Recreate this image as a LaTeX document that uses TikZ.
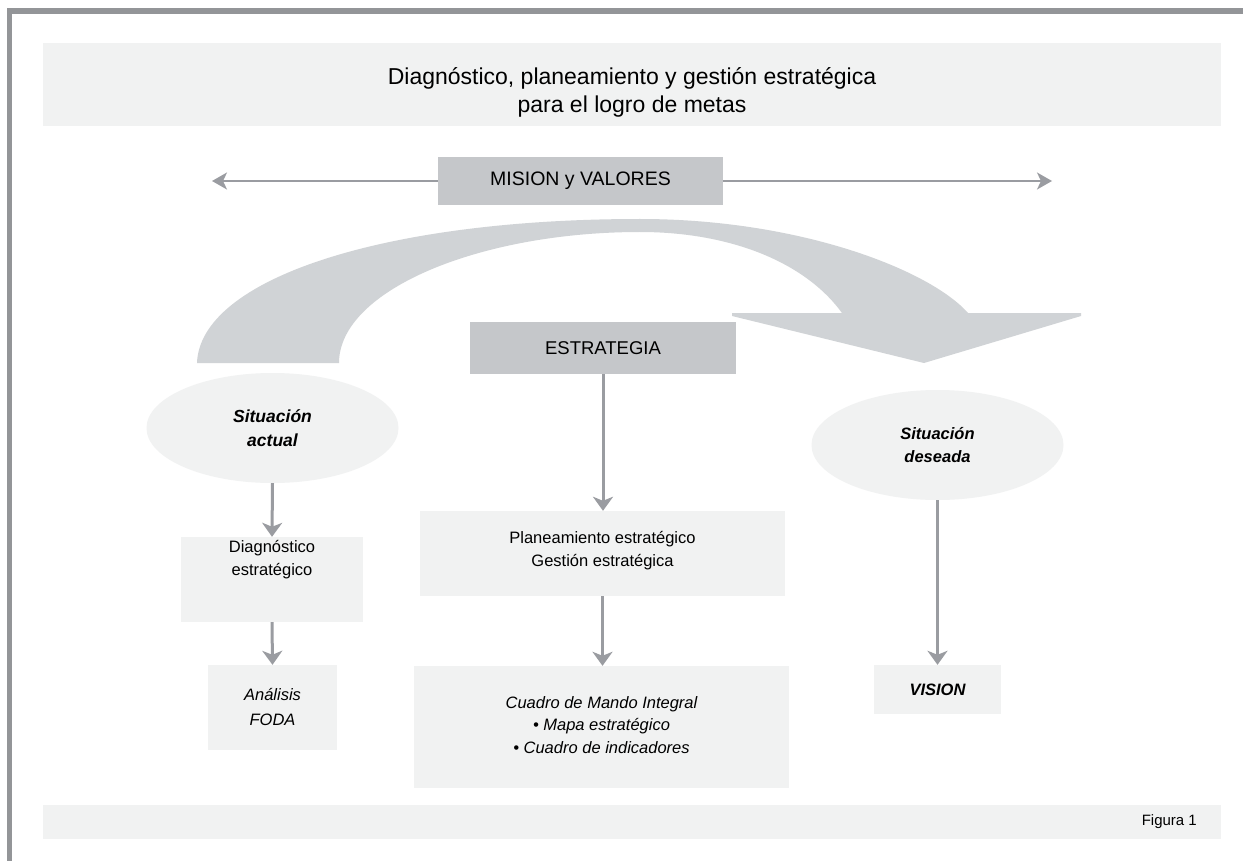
\documentclass[tikz,border=0pt]{standalone}
\usepackage{fontspec}
\setmainfont{Liberation Sans}
\usetikzlibrary{arrows.meta,shapes.geometric}
\definecolor{panel}{HTML}{F1F2F2}
\definecolor{darkbox}{HTML}{C5C7CA}
\definecolor{bigarrow}{HTML}{D0D3D6}
\definecolor{arrowgray}{HTML}{9A9CA1}
\definecolor{framegray}{HTML}{939598}
\begin{document}
\begin{tikzpicture}[x=1pt,y=-1pt,
  panelbox/.style={rectangle,fill=panel,inner sep=0pt},
  darkrect/.style={rectangle,fill=darkbox,inner sep=0pt,font=\fontsize{18.5}{22}\selectfont},
  oval/.style={ellipse,fill=panel,inner sep=0pt,minimum width=252pt,minimum height=110pt,align=center,font=\fontsize{16.5}{22.5}\selectfont\bfseries\itshape},
  txt/.style={align=center,inner sep=0pt,font=\fontsize{16.5}{23}\selectfont},
  harrow/.style={draw=arrowgray,line width=1.6pt,-{Stealth[length=15pt,width=17pt,inset=4pt]}},
  varrow/.style={draw=arrowgray,line width=3pt,-{Stealth[length=14pt,width=20pt,inset=4pt]}}]
\useasboundingbox (0,0) rectangle (1243,861);
\fill[white] (0,0) rectangle (1243,861);
% frame
\fill[framegray] (7,8) rectangle (1243,14);
\fill[framegray] (7,8) rectangle (12,861);
% title
\node[panelbox,minimum width=1178pt,minimum height=83pt] (title) at (632,84.5) {};
\node[txt,font=\fontsize{23}{28}\selectfont] (titletext) at (632,92.5) {Diagnóstico, planeamiento y gestión estratégica\\para el logro de metas};
% mision
\node[darkrect,minimum width=285pt,minimum height=48pt,font=\fontsize{19.5}{22}\selectfont] (mision) at (580.5,181) {MISION y VALORES};
\coordinate (mleft) at (212,181);
\coordinate (mright) at (1052,181);
\draw[harrow] (mision.west) -- (mleft);
\draw[harrow] (mision.east) -- (mright);
% big curved arrow
\fill[bigarrow] (197,363) -- (339,363)
  .. controls (339,290) and (480,232) .. (640,232)
  .. controls (730,232) and (805,262) .. (842,313)
  -- (732,313) -- (732,316) -- (924,363) -- (1081,316) -- (1081,313) -- (968,313)
  .. controls (930,270) and (800,219) .. (640,219)
  .. controls (380,219) and (200,280) .. (197,363) -- cycle;
% estrategia
\node[darkrect,minimum width=266pt,minimum height=52pt] (estr) at (603,348) {ESTRATEGIA};
% left column
\node[oval,font=\fontsize{17.5}{24}\selectfont\bfseries\itshape] (sa) at (272.5,428) {Situación\\actual};
\node[panelbox,minimum width=182pt,minimum height=85pt] (diag) at (272,579.5) {};
\node[txt,anchor=north] (diagtext) at (272,540) {Diagnóstico\\estratégico};
\node[panelbox,minimum width=129pt,minimum height=85pt,txt,font=\fontsize{16.5}{25}\selectfont\itshape] (foda) at (272.5,707.5) {Análisis\\FODA};
\draw[varrow] (sa.south) -- (diag.north);
\draw[varrow] (diag.south) -- (foda.north);
% middle column
\node[panelbox,minimum width=365pt,minimum height=85pt] (plan) at (602.5,553.5) {};
\node[txt] (plantext) at (602.5,550.5) {Planeamiento estratégico\\Gestión estratégica};
\node[panelbox,minimum width=375pt,minimum height=122pt] (cmi) at (601.5,727) {};
\node[txt,font=\fontsize{16.5}{22.5}\selectfont\itshape] (cmitext) at (601.5,725) {Cuadro de Mando Integral\\\textbullet{} Mapa estratégico\\\textbullet{} Cuadro de indicadores};
\draw[varrow] (estr.south) -- (estr.south |- plan.north);
\draw[varrow] (plan.south) -- (plan.south |- cmi.north);
% right column
\node[oval] (sd) at (937.5,445) {Situación\\deseada};
\node[panelbox,minimum width=127pt,minimum height=49pt,txt,font=\fontsize{16.5}{22}\selectfont\bfseries\itshape] (vision) at (937.5,689.5) {VISION};
\draw[varrow] (sd.south) -- (vision.north);
% footer
\node[panelbox,minimum width=1178pt,minimum height=34pt] (footer) at (632,822) {};
\node[txt,anchor=east,font=\fontsize{15}{18}\selectfont] (fig) at (1197,822) {Figura 1};
\end{tikzpicture}
\end{document}
